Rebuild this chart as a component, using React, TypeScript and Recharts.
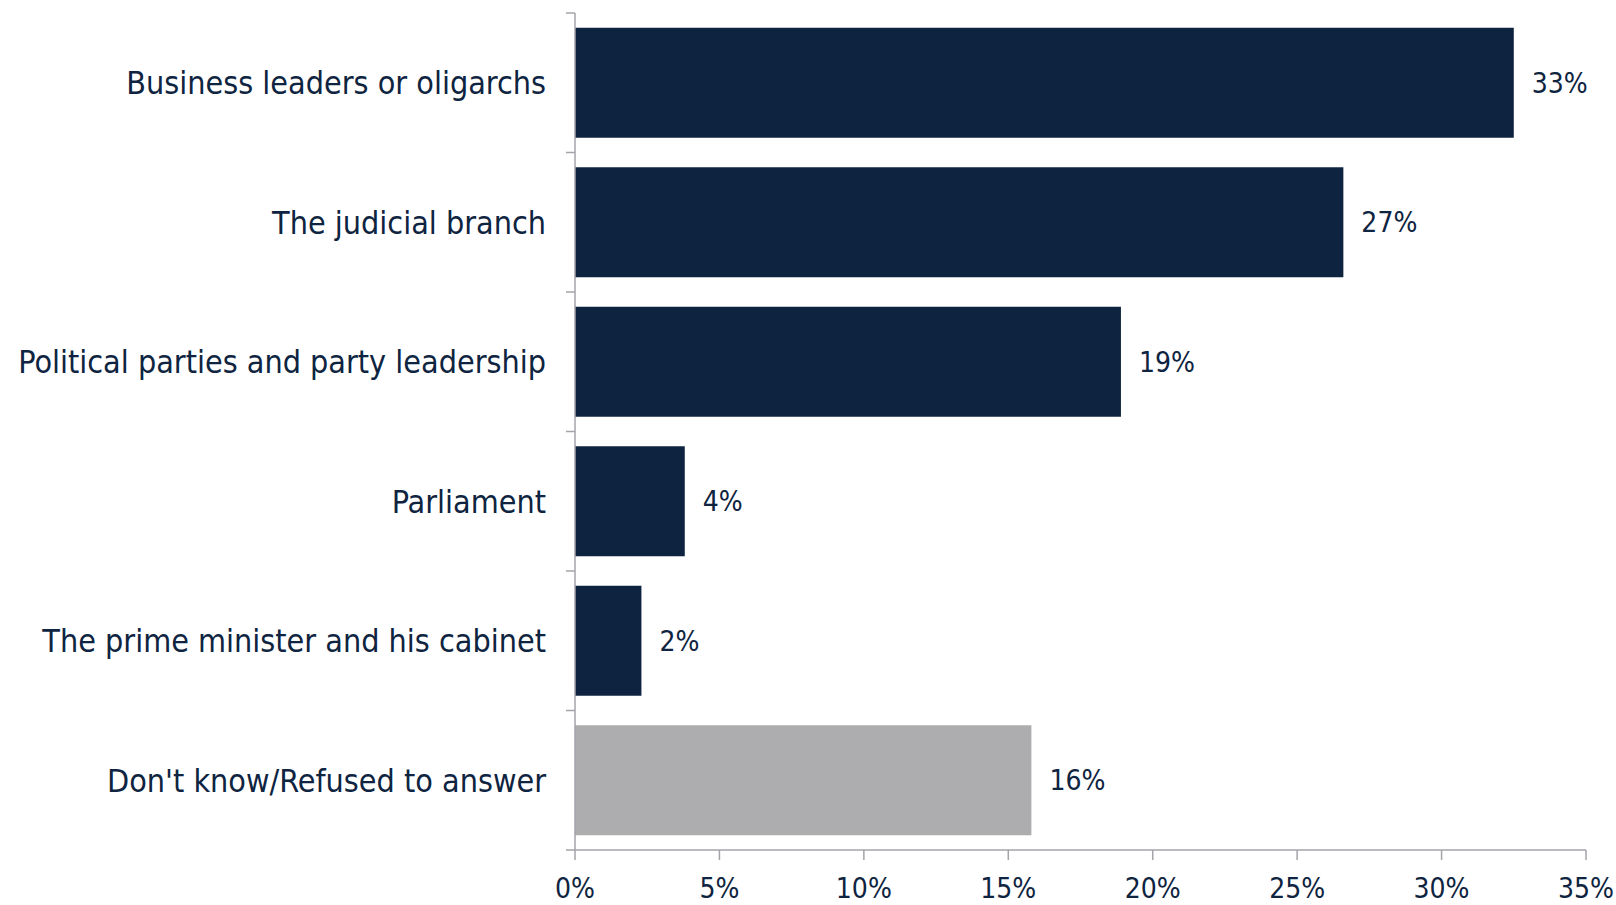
import React from "react";
import { BarChart, Bar, XAxis, YAxis, Cell, LabelList } from "recharts";

const categories = [
  "Business leaders or oligarchs",
  "The judicial branch",
  "Political parties and party leadership",
  "Parliament",
  "The prime minister and his cabinet",
  "Don't know/Refused to answer",
];
const shares = [32.5, 26.6, 18.9, 3.8, 2.3, 15.8];
const barColors = ["#0e233f", "#0e233f", "#0e233f", "#0e233f", "#0e233f", "#adadb0"];
const xTicks = [0, 5, 10, 15, 20, 25, 30, 35];

const data = categories.map((name, i) => ({ name, value: shares[i] }));

const FONT = "'DejaVu Sans Condensed', 'DejaVu Sans', sans-serif";
const TEXT = "#0e2440";
const AXIS = "#a3a3aa";
const Y_TICK = 9;
const Y_MARGIN = 20;

function CategoryTick(props: any) {
  const { x, y, payload, index } = props;
  const half = payload?.offset ?? 69.75;
  const ax = x + Y_TICK + Y_MARGIN;
  const last = index === categories.length - 1;
  return (
    <g>
      <line x1={ax - Y_TICK} x2={ax} y1={y - half} y2={y - half} stroke={AXIS} strokeWidth={1.5} />
      {last && <line x1={ax - Y_TICK} x2={ax} y1={y + half} y2={y + half} stroke={AXIS} strokeWidth={1.5} />}
      <text x={x} y={y} dy="0.36em" textAnchor="end" fill={TEXT} fontSize={32} fontFamily={FONT} style={{ fontStretch: "condensed" }}>
        {payload.value}
      </text>
    </g>
  );
}

export default function App() {
  return (
    <div style={{ position: "absolute", left: 0, top: 0, background: "#fff" }}>
      <BarChart
        width={1616}
        height={905}
        data={data}
        layout="vertical"
        margin={{ top: 13, right: 30, left: 0, bottom: 0 }}
        barCategoryGap="10.6%"
      >
        <XAxis
          type="number"
          domain={[0, 35]}
          ticks={xTicks}
          tickFormatter={(v) => `${v}%`}
          height={55}
          tickSize={10}
          tickMargin={18}
          axisLine={{ stroke: AXIS, strokeWidth: 1.5 }}
          tickLine={{ stroke: AXIS, strokeWidth: 1.5 }}
          tick={{ fill: TEXT, fontSize: 28, fontFamily: FONT, style: { fontStretch: "condensed" } }}
          interval={0}
        />
        <YAxis
          type="category"
          dataKey="name"
          width={575}
          tickSize={Y_TICK}
          tickMargin={Y_MARGIN}
          tickLine={false}
          axisLine={{ stroke: AXIS, strokeWidth: 1.5 }}
          tick={<CategoryTick />}
          interval={0}
        />
        <Bar dataKey="value" isAnimationActive={false}>
          {data.map((d, i) => (
            <Cell key={d.name} fill={barColors[i]} />
          ))}
          <LabelList
            dataKey="value"
            position="right"
            offset={18}
            formatter={(v: any) => `${Math.round(Number(v))}%`}
            style={{ fill: TEXT, fontSize: 28, fontFamily: FONT, fontStretch: "condensed" }}
          />
        </Bar>
      </BarChart>
    </div>
  );
}
